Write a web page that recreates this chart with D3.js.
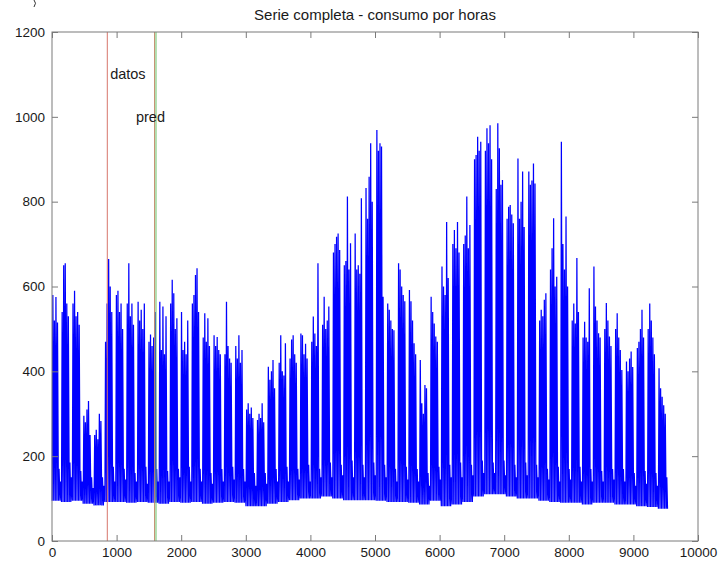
<!DOCTYPE html>
<html>
<head>
<meta charset="utf-8">
<script src="https://cdn.jsdelivr.net/npm/d3@7"></script>
<style>
  body { margin: 0; background: #fff; }
  svg { display: block; }
  text { font-family: "Liberation Sans", Arial, Helvetica, sans-serif; fill: #1a1a1a; }
</style>
</head>
<body>
<svg id="chart" width="720" height="564"></svg>
<script>
// ---- data -------------------------------------------------------------
const chartTitle = "Serie completa - consumo por horas";
const xTickValues = [0, 1000, 2000, 3000, 4000, 5000, 6000, 7000, 8000, 9000, 10000];
const yTickValues = [0, 200, 400, 600, 800, 1000, 1200];

// Daily maximum consumption, one row per week (Mon..Sun).
// The record starts on a Tuesday and ends on a Saturday.
const dailyPeak = [
  [580, 520, 575, 515, 170, 140],
  [540, 650, 655, 560, 530, 185, 150],
  [560, 590, 530, 540, 510, 165, 140],
  [295, 280, 310, 330, 250, 150, 125],
  [250, 262, 240, 300, 283, 150, 130],
  [470, 560, 665, 600, 540, 175, 140],
  [580, 590, 540, 560, 500, 170, 145],
  [560, 655, 530, 560, 510, 160, 140],
  [564, 520, 545, 500, 560, 175, 135],
  [470, 487, 460, 480, 540, 170, 140],
  [564, 450, 553, 440, 530, 165, 140],
  [560, 616, 584, 500, 525, 170, 150],
  [540, 450, 470, 440, 520, 175, 140],
  [560, 580, 627, 643, 540, 170, 140],
  [480, 537, 470, 525, 460, 160, 135],
  [485, 460, 481, 450, 440, 170, 140],
  [440, 564, 460, 430, 420, 175, 145],
  [460, 430, 485, 420, 450, 170, 140],
  [310, 325, 300, 315, 290, 160, 130],
  [285, 300, 290, 325, 280, 160, 135],
  [411, 380, 400, 427, 360, 170, 140],
  [420, 485, 400, 390, 466, 175, 140],
  [430, 475, 485, 440, 420, 170, 145],
  [489, 485, 440, 465, 430, 180, 140],
  [470, 529, 489, 460, 655, 170, 150],
  [510, 576, 500, 520, 553, 185, 150],
  [680, 700, 717, 725, 686, 180, 155],
  [650, 660, 812, 640, 702, 190, 150],
  [725, 640, 650, 630, 808, 180, 150],
  [832, 760, 859, 938, 800, 185, 155],
  [969, 920, 938, 930, 576, 180, 150],
  [560, 545, 520, 500, 497, 170, 140],
  [655, 640, 600, 580, 565, 175, 145],
  [592, 565, 520, 466, 440, 170, 140],
  [427, 325, 300, 368, 360, 160, 130],
  [576, 540, 513, 482, 470, 175, 145],
  [647, 600, 580, 752, 620, 180, 150],
  [700, 733, 690, 752, 680, 185, 150],
  [700, 720, 812, 690, 745, 180, 155],
  [900, 910, 953, 920, 941, 190, 160],
  [920, 973, 938, 980, 900, 185, 160],
  [830, 985, 926, 840, 851, 190, 155],
  [760, 788, 792, 770, 749, 180, 150],
  [902, 760, 800, 871, 740, 185, 155],
  [871, 840, 850, 890, 843, 180, 150],
  [520, 545, 530, 569, 584, 170, 145],
  [640, 690, 761, 600, 623, 175, 140],
  [941, 700, 640, 765, 600, 170, 145],
  [520, 560, 513, 667, 540, 175, 140],
  [480, 517, 480, 470, 596, 170, 140],
  [647, 553, 520, 490, 480, 165, 140],
  [500, 561, 520, 482, 460, 170, 145],
  [500, 537, 480, 450, 403, 170, 140],
  [423, 400, 430, 447, 410, 160, 130],
  [455, 470, 500, 545, 480, 165, 135],
  [500, 560, 520, 480, 440, 160, 130],
  [407, 360, 340, 320, 300, 150]
];

// Night-time minimum for each week.
const weekMin = [
  95, 92, 95, 88, 84, 92, 92, 90, 92, 90,
  88, 92, 90, 92, 88, 90, 92, 90, 82, 82,
  88, 92, 96, 100, 100, 105, 100, 96, 96, 96,
  95, 92, 92, 90, 86, 95, 82, 86, 92, 105,
  110, 110, 105, 100, 100, 95, 92, 90, 90, 86,
  90, 90, 86, 86, 82, 80, 76
];

// Vertical markers: end of training data and start of prediction
const markerHours  = [856, 1588, 1610];
const markerColors = ["#d8766c", "#c08a6a", "#6cc46a"];

// Annotations
const noteTexts  = ["datos", "pred"];
const noteHours  = [900, 1300];
const noteValues = [1100, 1000];

// ---- build the hourly-indexed series ---------------------------------
const series = [];
let dayIndex = 0;
dailyPeak.forEach((row, w) => {
  row.forEach(peak => {
    series.push({ h: dayIndex * 24 + 3,  v: weekMin[w] });
    series.push({ h: dayIndex * 24 + 13, v: peak });
    dayIndex++;
  });
});
series.push({ h: dayIndex * 24, v: weekMin[weekMin.length - 1] });

// ---- layout -----------------------------------------------------------
const svg = d3.select("#chart");
const plotLeft = 52, plotRight = 698, plotTop = 32, plotBottom = 541;

const x = d3.scaleLinear().domain([0, 10000]).range([plotLeft, plotRight]);
const y = d3.scaleLinear().domain([0, 1200]).range([plotBottom, plotTop]);

// data line
svg.append("path")
  .datum(series)
  .attr("fill", "none")
  .attr("stroke", "#0000ff")
  .attr("stroke-width", 1.25)
  .attr("stroke-linejoin", "miter")
  .attr("stroke-miterlimit", 2)
  .attr("d", d3.line().x(d => x(d.h)).y(d => y(d.v)));

// markers
markerHours.forEach((h, i) => {
  svg.append("line")
    .attr("x1", x(h)).attr("x2", x(h))
    .attr("y1", y(0)).attr("y2", y(1200))
    .attr("stroke", markerColors[i])
    .attr("stroke-width", 1);
});

// annotations
noteTexts.forEach((t, i) => {
  svg.append("text")
    .attr("x", x(noteHours[i]))
    .attr("y", y(noteValues[i]))
    .attr("dy", "0.35em")
    .attr("font-size", 14.5)
    .text(t);
});

// axes (ticks point inward, as in a boxed plot)
const tickLen = 6;
const axisColor = "#7a7a7a";

const gx = svg.append("g")
  .attr("transform", `translate(0,${plotBottom})`)
  .call(d3.axisBottom(x).tickValues(xTickValues).tickFormat(d3.format("d"))
        .tickSizeInner(-tickLen).tickSizeOuter(0).tickPadding(6));
const gxTop = svg.append("g")
  .attr("transform", `translate(0,${plotTop})`)
  .call(d3.axisTop(x).tickValues(xTickValues).tickFormat("")
        .tickSizeInner(-tickLen).tickSizeOuter(0));
const gy = svg.append("g")
  .attr("transform", `translate(${plotLeft},0)`)
  .call(d3.axisLeft(y).tickValues(yTickValues).tickFormat(d3.format("d"))
        .tickSizeInner(-tickLen).tickSizeOuter(0).tickPadding(7));
const gyRight = svg.append("g")
  .attr("transform", `translate(${plotRight},0)`)
  .call(d3.axisRight(y).tickValues(yTickValues).tickFormat("")
        .tickSizeInner(-tickLen).tickSizeOuter(0));

[gx, gxTop, gy, gyRight].forEach(g => {
  g.select(".domain").remove();
  g.selectAll(".tick line").attr("stroke", axisColor);
  g.selectAll("text").attr("font-size", 13.5).attr("fill", "#1a1a1a")
    .style("font-family", '"Liberation Sans", Arial, sans-serif');
});

// plot frame
svg.append("rect")
  .attr("x", plotLeft).attr("y", plotTop)
  .attr("width", plotRight - plotLeft).attr("height", plotBottom - plotTop)
  .attr("fill", "none")
  .attr("stroke", axisColor)
  .attr("stroke-width", 1);

// title
svg.append("text")
  .attr("x", (plotLeft + plotRight) / 2)
  .attr("y", 20)
  .attr("text-anchor", "middle")
  .attr("font-size", 15)
  .text(chartTitle);

// small curved stroke at the top edge
svg.append("path")
  .attr("d", "M34,0 Q37,3 34,7")
  .attr("fill", "none")
  .attr("stroke", "#333")
  .attr("stroke-width", 1);
</script>
</body>
</html>
